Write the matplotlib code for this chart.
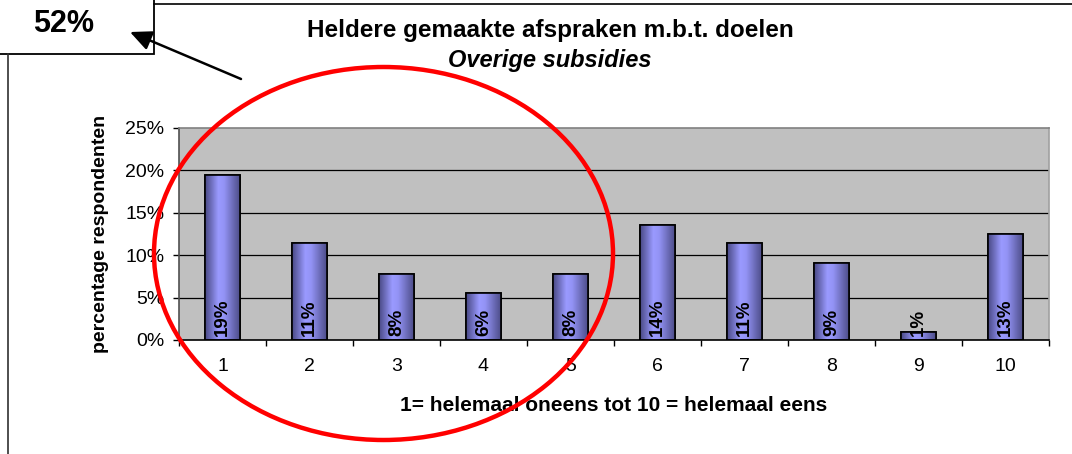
import matplotlib.pyplot as plt
from matplotlib.patches import Ellipse, Rectangle
from matplotlib.colors import LinearSegmentedColormap
from matplotlib.ticker import FuncFormatter, FixedLocator
import numpy as np

plt.rcParams['font.family'] = ['Liberation Sans', 'DejaVu Sans']

# data
categories = [1, 2, 3, 4, 5, 6, 7, 8, 9, 10]
percentages = [19.4, 11.4, 7.8, 5.6, 7.8, 13.6, 11.4, 9.1, 1.0, 12.5]
bar_labels = ['19%', '11%', '8%', '6%', '8%', '14%', '11%', '9%', '1%', '13%']
y_ticks = [0, 5, 10, 15, 20, 25]
callout_text = '52%'

W, H = 1072, 454
fig = plt.figure(figsize=(W / 100, H / 100), dpi=100)
fig.patch.set_facecolor('white')

# main plot area in pixel terms
left, right, top, bottom = 179, 1049, 128, 340
ax = fig.add_axes([left / W, 1 - bottom / H, (right - left) / W, (bottom - top) / H])
ax.set_facecolor('#c0c0c0')

# gridlines
for yv in y_ticks[1:-1]:
    ax.axhline(yv, color='black', lw=0.9, zorder=1)

# bars with a horizontal shaded gradient
grad_cmap = LinearSegmentedColormap.from_list(
    'bar', [(0.0, '#4a4a86'), (0.38, '#9a9aff'), (0.55, '#9393f5'), (1.0, '#4e4e8a')])
bar_w = 0.4
bars = ax.bar(categories, percentages, width=bar_w, color='#9999ff',
              edgecolor='black', linewidth=1.2, zorder=2)
grad = np.linspace(0, 1, 64).reshape(1, -1)
for rect, cat, val in zip(bars, categories, percentages):
    im = ax.imshow(grad, cmap=grad_cmap, aspect='auto', zorder=2.5,
                   extent=[cat - bar_w / 2, cat + bar_w / 2, 0, val])
    im.set_clip_path(rect)
    ax.bar([cat], [val], width=bar_w, fill=False, edgecolor='black', linewidth=1.2, zorder=3)

ax.set_xlim(0.5, 10.5)
ax.set_ylim(0, 25)

for cat, lab in zip(categories, bar_labels):
    ax.text(cat, 0.5, lab, rotation=90, ha='center', va='bottom',
            fontsize=13.5, fontweight='bold', color='black', zorder=4)

# axes styling
ax.spines['top'].set_color('#808080')
ax.spines['right'].set_color('#a0a0a0')
ax.spines['left'].set_color('#505050')
ax.spines['bottom'].set_color('black')
for s in ax.spines.values():
    s.set_linewidth(1.2)

ax.set_yticks(y_ticks)
ax.yaxis.set_major_formatter(FuncFormatter(lambda v, p: f'{v:.0f}%'))
ax.tick_params(axis='y', direction='out', length=4.5, width=1, pad=6, labelsize=14)

ax.set_xticks(categories)
ax.set_xticklabels([str(c) for c in categories])
ax.xaxis.set_minor_locator(FixedLocator([c + 0.5 for c in [0] + categories]))
ax.tick_params(axis='x', which='major', length=0, pad=13, labelsize=14)
ax.tick_params(axis='x', which='minor', direction='out', length=4, width=1)

ax.set_xlabel('1= helemaal oneens tot 10 = helemaal eens', fontsize=15,
              fontweight='bold', labelpad=15)
ax.set_ylabel('percentage respondenten', fontsize=14, fontweight='bold', labelpad=12)

# title block
fig.text(550 / W, 1 - 30 / H, 'Heldere gemaakte afspraken m.b.t. doelen',
         ha='center', va='center', fontsize=17.5, fontweight='bold')
fig.text(550 / W, 1 - 60 / H, 'Overige subsidies', ha='center', va='center',
         fontsize=17, fontweight='bold', style='italic')

# overlay in pixel coordinates for the annotations
ov = fig.add_axes([0, 0, 1, 1], zorder=10)
ov.set_xlim(0, W)
ov.set_ylim(H, 0)
ov.axis('off')
ov.patch.set_alpha(0)

ov.plot([154, W], [4, 4], color='black', lw=1.2)
ov.plot([8, 8], [54, H], color='#303030', lw=1.2)
ov.add_patch(Rectangle((-5, -5), 159, 59, facecolor='white', edgecolor='black', lw=1.3))
ov.text(64, 24, callout_text, ha='center', va='center', fontsize=22, fontweight='bold')

ov.annotate('', xy=(130, 32), xytext=(241, 79),
            arrowprops=dict(arrowstyle='-|>,head_length=1.3,head_width=0.6',
                            color='black', lw=1.8, shrinkA=0, shrinkB=0))

ov.add_patch(Ellipse((383.5, 253.5), 459, 373, fill=False, edgecolor='#ff0000', lw=3.2))

fig.savefig('out.png', dpi=100)
